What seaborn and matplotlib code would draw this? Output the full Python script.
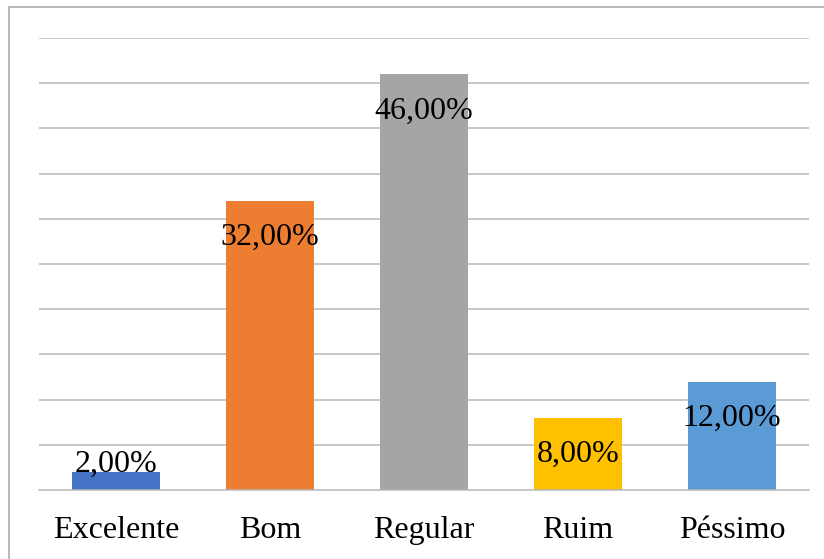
import matplotlib
matplotlib.use("Agg")
import matplotlib.pyplot as plt
import seaborn as sns
import pandas as pd
from matplotlib.patches import Rectangle

# --- Dados ---
categorias = ["Excelente", "Bom", "Regular", "Ruim", "Péssimo"]
percentuais = [2.0, 32.0, 46.0, 8.0, 12.0]
cores = ["#4472C4", "#ED7D31", "#A5A5A5", "#FFC000", "#5B9BD5"]

df = pd.DataFrame({"categoria": categorias, "percentual": percentuais})

sns.set_theme(style="white")
plt.rcParams["font.family"] = ["Liberation Serif", "DejaVu Serif"]

W, H = 824, 559
fig = plt.figure(figsize=(W / 100, H / 100), dpi=100)
ax = fig.add_axes([39 / W, (H - 490) / H, (809 - 39) / W, (490 - 38) / H])

sns.barplot(data=df, x="categoria", y="percentual", hue="categoria",
            palette=cores, width=0.57, legend=False, ax=ax, saturation=1,
            linewidth=0)

ax.set_xlim(-0.5, 4.5)
ax.set_ylim(0, 50)
ax.set_yticks(range(5, 51, 5))
ax.yaxis.grid(True, color="#B8B8B8", linewidth=1.1)
ax.set_axisbelow(True)
ax.tick_params(axis="y", left=False, labelleft=False)
ax.tick_params(axis="x", bottom=False, labelsize=23, pad=13, colors="black")
ax.set_xlabel("")
ax.set_ylabel("")
for lado in ["top", "right", "left"]:
    ax.spines[lado].set_visible(False)
ax.spines["bottom"].set_color("#B8B8B8")
ax.spines["bottom"].set_linewidth(1.1)

# rótulos de dados
for i, v in enumerate(percentuais):
    txt = f"{v:.2f}".replace(".", ",") + "%"
    if v < 5:
        ax.annotate(txt, (i, v), xytext=(0, 0), textcoords="offset points",
                    ha="center", va="baseline", fontsize=23, color="black")
    else:
        ax.annotate(txt, (i, v), xytext=(0, -32), textcoords="offset points",
                    ha="center", va="baseline", fontsize=23, color="black")

# borda do gráfico
fig.patches.append(Rectangle((9 / W, -0.1), 1.2, (H - 7) / H + 0.1,
                             transform=fig.transFigure, fill=False,
                             edgecolor="#ABABAB", linewidth=1.2, clip_on=False))

fig.savefig("out.png", dpi=100)
